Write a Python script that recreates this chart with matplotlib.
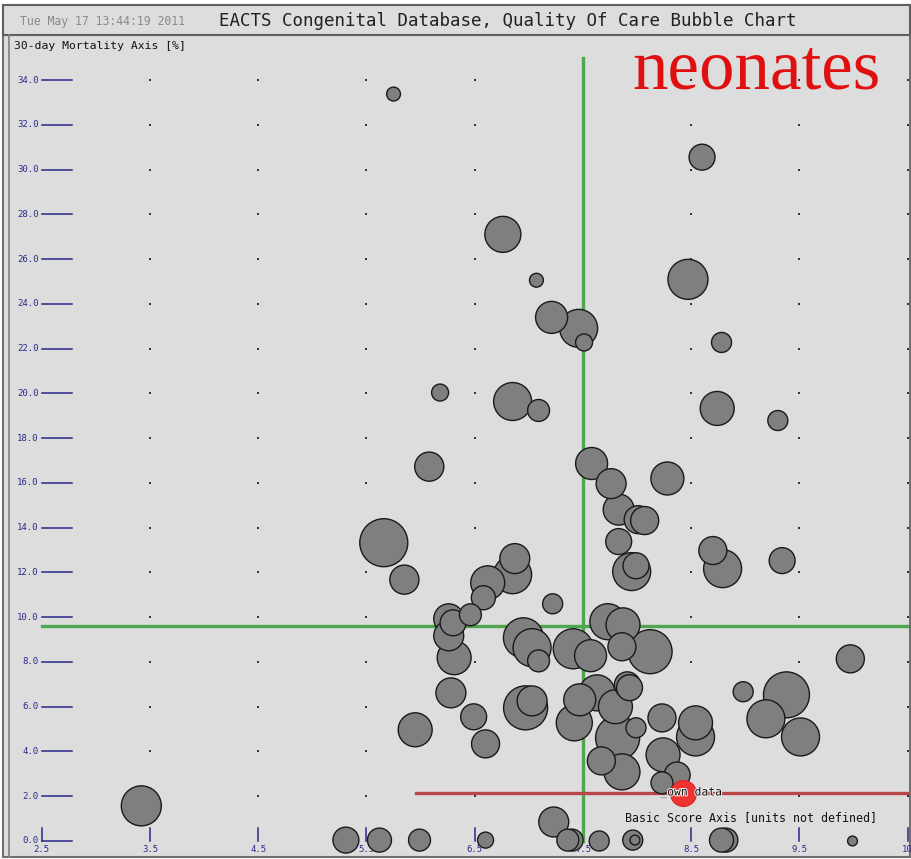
import matplotlib
matplotlib.use('Agg')
import matplotlib.pyplot as plt
import matplotlib.patheffects as pe
from matplotlib.patches import Rectangle
import numpy as np

# bubbles: basic score, 30-day mortality [%], number of cases
score = [5.75, 8.60, 6.76, 7.07, 7.21, 7.46, 7.51, 8.47, 8.78, 8.74,
         9.30, 6.18, 6.85, 7.09, 6.08, 7.58, 7.76, 7.83, 8.01, 8.07,
         8.28, 7.83, 7.95, 7.99, 5.66, 5.85, 6.87, 6.85, 6.62, 6.58,
         7.22, 8.70, 8.79, 9.34, 7.73, 7.87, 6.26, 6.30, 6.46, 6.26,
         6.31, 6.95, 7.03, 7.09, 7.41, 7.57, 7.86, 8.12, 6.28, 6.97,
         7.03, 6.49, 5.95, 6.60, 7.47, 7.63, 7.42, 7.80, 7.91, 7.93,
         7.82, 7.99, 7.67, 7.86, 8.23, 8.54, 8.54, 8.24, 8.37, 8.23,
         9.97, 8.98, 9.38, 9.19, 9.51, 3.42, 5.31, 5.62, 5.99, 6.60,
         7.23, 7.36, 7.40, 7.65, 7.96, 7.98, 8.78, 8.82, 9.99]
mortality = [33.38, 30.56, 27.11, 25.06, 23.40, 22.91, 22.28, 25.10, 22.28, 19.33,
             18.79, 20.04, 19.64, 19.24, 16.73, 16.87, 15.97, 14.81, 14.36, 14.32,
             16.20, 13.38, 12.04, 12.30, 13.33, 11.68, 12.62, 11.90, 11.54, 10.87,
             10.60, 12.98, 12.17, 12.53, 9.80, 9.66, 9.93, 9.75, 10.11, 9.17,
             8.19, 9.08, 8.64, 8.05, 8.59, 8.28, 8.68, 8.46, 6.62, 5.95,
             6.26, 5.55, 4.97, 4.34, 6.31, 6.62, 5.28, 6.00, 6.98, 6.85,
             4.61, 5.06, 3.58, 3.09, 5.50, 5.28, 4.65, 3.85, 2.95, 2.60,
             8.14, 6.67, 6.53, 5.46, 4.65, 1.57, 0.04, 0.04, 0.04, 0.04,
             0.85, 0.04, 0.04, 0.00, 0.04, 0.04, 0.04, 0.04, 0.00]
cases = [12, 42, 81, 12, 64, 90, 18, 100, 25, 72,
         25, 18, 90, 30, 53, 64, 56, 60, 49, 49,
         68, 42, 90, 42, 144, 53, 56, 90, 72, 36,
         25, 49, 90, 42, 81, 72, 56, 42, 30, 56,
         72, 100, 90, 30, 100, 64, 49, 121, 56, 121,
         56, 42, 72, 49, 64, 81, 81, 72, 42, 42,
         121, 25, 49, 81, 49, 72, 90, 72, 42, 30,
         49, 25, 132, 90, 90, 100, 42, 36, 30, 16,
         56, 30, 30, 25, 25, 6, 36, 36, 6]

own_score, own_mortality, own_cases = 8.42, 2.15, 42
own_line_start = 5.96
mean_score, mean_mortality = 7.5, 9.62

x_ticks = [2.5, 3.5, 4.5, 5.5, 6.5, 7.5, 8.5, 9.5, 10.5]
x_tick_labels = ['2.5', '3.5', '4.5', '5.5', '6.5', '7.5', '8.5', '9.5', '10']
y_ticks = [0, 2, 4, 6, 8, 10, 12, 14, 16, 18, 20, 22, 24, 26, 28, 30, 32, 34]

W, H = 912, 859
def box(x0, y0, x1, y1):
    return [x0 / W, 1 - y1 / H, (x1 - x0) / W, (y1 - y0) / H]

def frame(x0, y0, x1, y1, **kw):
    b = box(x0, y0, x1, y1)
    return Rectangle((b[0], b[1]), b[2], b[3], transform=fig.transFigure, zorder=-10, **kw)

mono = 'DejaVu Sans Mono'
navy = '#2a2a8a'
bg = '#dddddd'

fig = plt.figure(figsize=(W / 100, H / 100), dpi=100, facecolor='white')

# frame and title bar
fig.add_artist(frame(3, 5, 910, 857, facecolor=bg, edgecolor='#707070', lw=1.5))
fig.add_artist(frame(3, 5, 910, 35, facecolor=bg, edgecolor='#606060', lw=1.5))
fig.add_artist(plt.Line2D([9 / W, 9 / W], [1 - 857 / H, 1 - 35 / H], transform=fig.transFigure,
                          color='#808080', lw=1.2, zorder=-5))
fig.text(20 / W, 1 - 21 / H, 'Tue May 17 13:44:19 2011', family=mono, fontsize=8.3,
         color='#8a8a8a', va='center', ha='left')
fig.text(508 / W, 1 - 21 / H, 'EACTS Congenital Database, Quality Of Care Bubble Chart',
         family=mono, fontsize=12.6, color='#222222', va='center', ha='center')

ax = fig.add_axes(box(11, 37, 909, 855))
ax.set_facecolor(bg)
ax.set_xlim(2.216, 10.512)
ax.set_ylim(-0.626, 35.93)
ax.set_xticks([])
ax.set_yticks([])
for s in ax.spines.values():
    s.set_visible(False)

# grid dots
gx, gy = np.meshgrid(x_ticks[1:], y_ticks[1:])
ax.scatter(gx.ravel(), gy.ravel(), s=1.2, c='#333333', marker='s', lw=0, zorder=1)

# tick marks and labels inside the panel
for v in y_ticks:
    ax.plot([2.5, 2.78], [v, v], color=navy, lw=1.1, zorder=2)
    ax.text(2.47, v, '%.1f' % v, family=mono, fontsize=6.5, color=navy, ha='right', va='center')
for v, lab in zip(x_ticks, x_tick_labels):
    ax.plot([v, v], [0, 0.58], color=navy, lw=1.1, zorder=2)
    ax.text(v, -0.36, lab, family=mono, fontsize=6.5, color=navy, ha='center', va='center')

ax.text(2.245, 35.75, '30-day Mortality Axis [%]', family=mono, fontsize=8.2,
        color='#111111', ha='left', va='top')
ax.text(9.05, 1.07, 'Basic Score Axis [units not defined]', family=mono, fontsize=8.4,
        color='#111111', ha='center', va='center')

# reference lines
ax.plot([mean_score, mean_score], [0, 35], color='#4fa64f', lw=2.4, zorder=2)
ax.plot([2.5, 10.55], [mean_mortality, mean_mortality], color='#4fa64f', lw=2.4, zorder=2)
ax.plot([own_line_start, 10.6], [own_mortality, own_mortality], color='#b84848', lw=2.4, zorder=2)

# bubbles, largest first so small ones stay visible
order = np.argsort(cases)[::-1]
sx = np.array(score)[order]
sy = np.array(mortality)[order]
sn = np.array(cases)[order]
ax.scatter(sx, sy, s=sn * 8.3, c='#7f7f7f', edgecolors='#1a1a1a', linewidths=1.0, zorder=3)

ax.scatter([own_score], [own_mortality], s=own_cases * 8.3, c='#ee3333', edgecolors='#dd2222',
           linewidths=0.8, zorder=4)
ax.text(8.50, own_mortality, '_own data', family=mono, fontsize=8.2, color='#111111',
        ha='center', va='center', zorder=5,
        path_effects=[pe.withStroke(linewidth=1.5, foreground='#eeeeee')])

ax.text(9.10, 33.65, 'neonates', family='Liberation Serif', fontsize=51, color='#e01010',
        ha='center', va='baseline', zorder=5)

plt.savefig('out.png', dpi=100, facecolor=fig.get_facecolor())
